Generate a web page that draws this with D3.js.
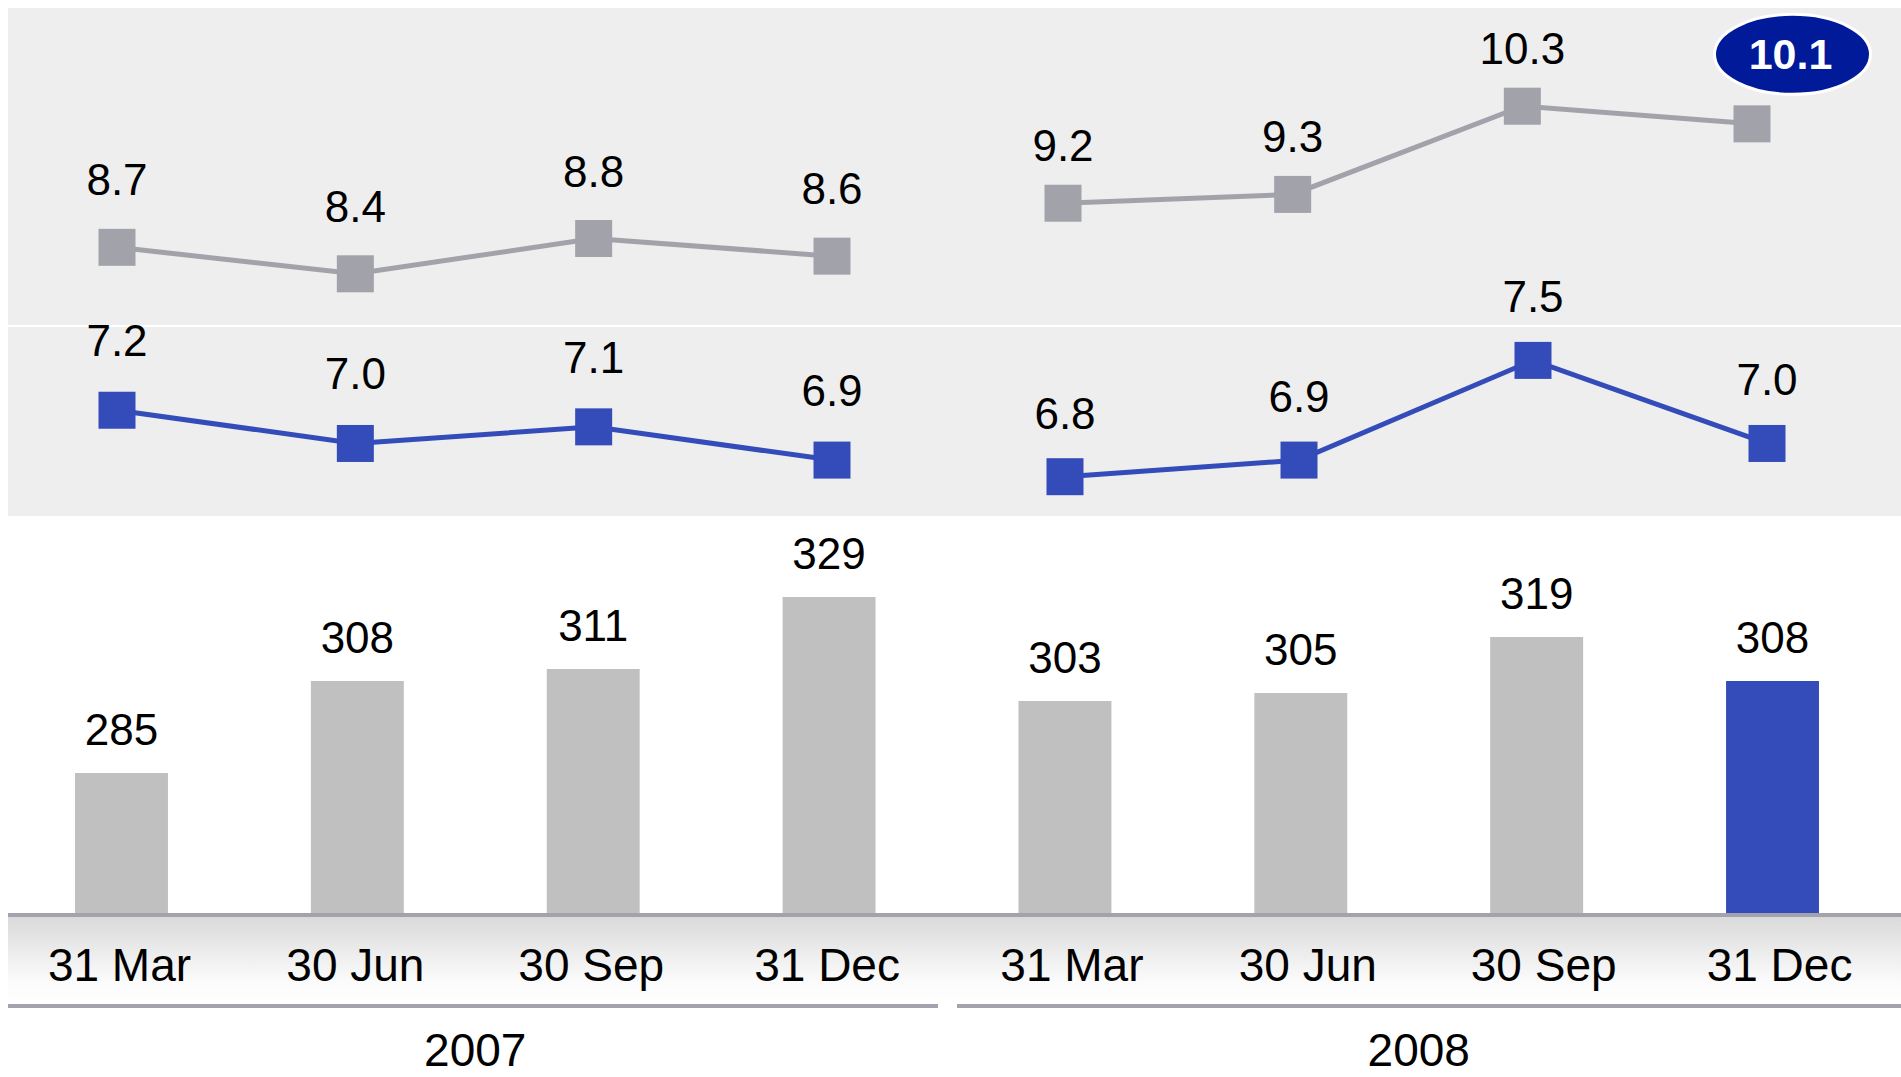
<!DOCTYPE html>
<html>
<head>
<meta charset="utf-8">
<script src="https://cdn.jsdelivr.net/npm/d3@7"></script>
<style>
  html, body { margin: 0; padding: 0; background: #ffffff; }
  #chart { width: 1901px; height: 1077px; overflow: hidden; }
  text { font-family: "Liberation Sans", Arial, sans-serif; fill: #000; }
</style>
</head>
<body>
<div id="chart"></div>
<script>
// Quarterly chart: two ratio lines on a grey panel, bars below
const quarters = ["31 Mar", "30 Jun", "30 Sep", "31 Dec"];
const years = ["2007", "2008"];
const greyValues = [8.7, 8.4, 8.8, 8.6, 9.2, 9.3, 10.3, 10.1];
const blueValues = [7.2, 7.0, 7.1, 6.9, 6.8, 6.9, 7.5, 7.0];
const barValues = [285, 308, 311, 329, 303, 305, 319, 308];
const highlightIndex = 7; // last period is shown in blue / with the badge

(function () {
  ///////////////////////////////////////////////////////////// ! Setup
  const width = 1901;
  const height = 1077;

  const colors = {
    panel: "#eeeeee",
    greyLine: "#a2a2ab",
    blue: "#344cb9",
    bar: "#c0c0c0",
    badge: "#001a99",
    axis: "#a3a3ad",
  };

  const svg = d3
    .select("#chart")
    .append("svg")
    .attr("width", width)
    .attr("height", height)
    .style("display", "block");

  // periods as keys "2007|31 Mar" ...
  const periods = [];
  years.forEach((y) => quarters.forEach((q) => periods.push(y + "|" + q)));

  ///////////////////////////////////////////////////////////// ! Scales
  const step = 235.86;
  const xBar = d3
    .scaleBand()
    .domain(periods)
    .range([121.5 - step / 2, 121.5 - step / 2 + step * periods.length])
    .paddingInner(0.606)
    .paddingOuter(0.303);

  const yBar = d3.scaleLinear().domain([250, 329]).range([913, 597]);

  const yGrey = d3.scaleLinear().domain([8.4, 10.3]).range([273.8, 106.2]);
  const yBlue = d3.scaleLinear().domain([6.8, 7.5]).range([476.7, 360.4]);

  // each series sits on its own point scale per year
  const lineRanges = {
    grey: [[117, 832], [1063, 1752]],
    blue: [[117, 832], [1065, 1767]],
  };
  function xLine(series, yi) {
    return d3.scalePoint().domain(quarters).range(lineRanges[series][yi]);
  }

  ///////////////////////////////////////////////////////////// ! Panel
  svg
    .append("rect")
    .attr("x", 8)
    .attr("y", 8)
    .attr("width", width - 8)
    .attr("height", 508)
    .attr("fill", colors.panel);

  svg
    .append("line")
    .attr("x1", 8)
    .attr("x2", width)
    .attr("y1", 326)
    .attr("y2", 326)
    .attr("stroke", "#ffffff")
    .attr("stroke-width", 2);

  ///////////////////////////////////////////////////////////// ! Lines
  const markerSize = 37;
  const labelOffset = { grey: [52, 42], blue: [54, 48] };

  function drawSeries(series, values, yScale, color) {
    years.forEach((yr, yi) => {
      const x = xLine(series, yi);
      const pts = quarters.map((q, qi) => ({
        q: q,
        v: values[yi * 4 + qi],
        idx: yi * 4 + qi,
      }));
      const g = svg.append("g").attr("class", series + "-" + yr);

      g.append("path")
        .datum(pts)
        .attr("fill", "none")
        .attr("stroke", color)
        .attr("stroke-width", 5)
        .attr(
          "d",
          d3
            .line()
            .x((d) => x(d.q))
            .y((d) => yScale(d.v))
        );

      g.selectAll("rect")
        .data(pts)
        .enter()
        .append("rect")
        .attr("x", (d) => x(d.q) - markerSize / 2)
        .attr("y", (d) => yScale(d.v) - markerSize / 2)
        .attr("width", markerSize)
        .attr("height", markerSize)
        .attr("fill", color);

      g.selectAll("text")
        .data(pts.filter((d) => !(series === "grey" && d.idx === highlightIndex)))
        .enter()
        .append("text")
        .attr("x", (d) => x(d.q))
        .attr("y", (d) => yScale(d.v) - labelOffset[series][yi])
        .attr("text-anchor", "middle")
        .style("font-size", "44px")
        .text((d) => d.v.toFixed(1));
    });
  }

  drawSeries("grey", greyValues, yGrey, colors.greyLine);
  drawSeries("blue", blueValues, yBlue, colors.blue);

  // badge on the latest grey value
  const bx = xLine("grey", 1)(quarters[3]) + 40.5;
  const by = yGrey(greyValues[highlightIndex]) - 69.5;
  svg
    .append("ellipse")
    .attr("cx", bx)
    .attr("cy", by)
    .attr("rx", 78)
    .attr("ry", 40)
    .attr("fill", colors.badge)
    .attr("stroke", "#ffffff")
    .attr("stroke-width", 3);
  svg
    .append("text")
    .attr("x", bx - 2)
    .attr("y", by + 15)
    .attr("text-anchor", "middle")
    .style("font-size", "43px")
    .style("font-weight", "bold")
    .style("fill", "#ffffff")
    .text(greyValues[highlightIndex].toFixed(1));

  ///////////////////////////////////////////////////////////// ! Bars
  svg
    .append("rect")
    .attr("x", 8)
    .attr("y", 915)
    .attr("width", width - 8)
    .attr("height", 89)
    .attr("fill", "url(#axisFade)");

  const defs = svg.append("defs");
  const grad = defs
    .append("linearGradient")
    .attr("id", "axisFade")
    .attr("x1", 0)
    .attr("x2", 0)
    .attr("y1", 0)
    .attr("y2", 1);
  grad.append("stop").attr("offset", "0%").attr("stop-color", "#d9d9d9");
  grad.append("stop").attr("offset", "75%").attr("stop-color", "#fbfbfb");
  grad.append("stop").attr("offset", "100%").attr("stop-color", "#ffffff");

  svg
    .selectAll("rect.bar")
    .data(barValues)
    .enter()
    .append("rect")
    .attr("class", "bar")
    .attr("x", (d, i) => xBar(periods[i]))
    .attr("y", (d) => yBar(d))
    .attr("width", xBar.bandwidth())
    .attr("height", (d) => yBar(250) - yBar(d))
    .attr("fill", (d, i) => (i === highlightIndex ? colors.blue : colors.bar));

  svg
    .selectAll("text.barlabel")
    .data(barValues)
    .enter()
    .append("text")
    .attr("class", "barlabel")
    .attr("x", (d, i) => xBar(periods[i]) + xBar.bandwidth() / 2)
    .attr("y", (d) => yBar(d) - 28)
    .attr("text-anchor", "middle")
    .style("font-size", "44px")
    .text((d) => d);

  ///////////////////////////////////////////////////////////// ! Axis
  svg
    .append("line")
    .attr("x1", 8)
    .attr("x2", width)
    .attr("y1", 915)
    .attr("y2", 915)
    .attr("stroke", colors.axis)
    .attr("stroke-width", 4);

  const quarterShift = [-2, 7]; // labels sit a touch right of the bars in 2008
  svg
    .selectAll("text.quarter")
    .data(periods)
    .enter()
    .append("text")
    .attr("class", "quarter")
    .attr(
      "x",
      (d, i) => xBar(d) + xBar.bandwidth() / 2 + quarterShift[Math.floor(i / 4)]
    )
    .attr("y", 981)
    .attr("text-anchor", "middle")
    .style("font-size", "46px")
    .text((d) => d.split("|")[1]);

  // year groups
  const bc = (i) => xBar(periods[i]) + xBar.bandwidth() / 2;
  const split = (bc(3) + bc(4)) / 2;
  const yearSpans = [
    [8, split - 9],
    [split + 10, width],
  ];
  years.forEach((yr, yi) => {
    svg
      .append("line")
      .attr("x1", yearSpans[yi][0])
      .attr("x2", yearSpans[yi][1])
      .attr("y1", 1006)
      .attr("y2", 1006)
      .attr("stroke", colors.axis)
      .attr("stroke-width", 4);

    svg
      .append("text")
      .attr("x", (bc(yi * 4) + bc(yi * 4 + 3)) / 2)
      .attr("y", 1066)
      .attr("text-anchor", "middle")
      .style("font-size", "46px")
      .text(yr);
  });
})();
</script>
</body>
</html>
